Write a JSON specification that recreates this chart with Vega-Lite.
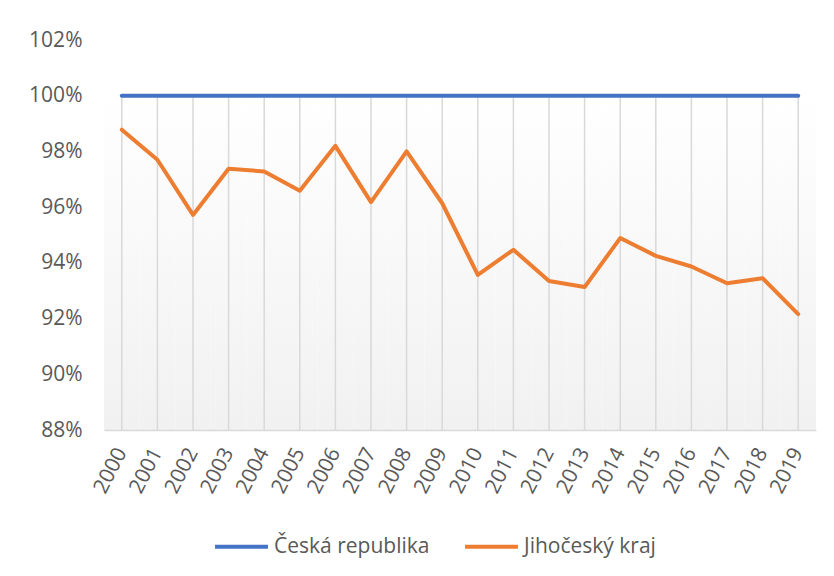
{
  "$schema": "https://vega.github.io/schema/vega-lite/v6.json",
  "autosize": "none",
  "width": 712,
  "height": 390,
  "padding": {"left": 104, "top": 40, "right": 18, "bottom": 146},
  "background": "#ffffff",
  "config": {
    "view": {"stroke": null},
    "font": "Open Sans",
    "axis": {"labelFont": "Open Sans", "labelColor": "#595959", "labelFontSize": 21},
    "legend": {"labelFont": "Open Sans", "labelColor": "#595959", "labelFontSize": 21}
  },
  "data": {
    "values": [
      {"year": "2000", "series": "Česká republika", "value": 1.0},
      {"year": "2001", "series": "Česká republika", "value": 1.0},
      {"year": "2002", "series": "Česká republika", "value": 1.0},
      {"year": "2003", "series": "Česká republika", "value": 1.0},
      {"year": "2004", "series": "Česká republika", "value": 1.0},
      {"year": "2005", "series": "Česká republika", "value": 1.0},
      {"year": "2006", "series": "Česká republika", "value": 1.0},
      {"year": "2007", "series": "Česká republika", "value": 1.0},
      {"year": "2008", "series": "Česká republika", "value": 1.0},
      {"year": "2009", "series": "Česká republika", "value": 1.0},
      {"year": "2010", "series": "Česká republika", "value": 1.0},
      {"year": "2011", "series": "Česká republika", "value": 1.0},
      {"year": "2012", "series": "Česká republika", "value": 1.0},
      {"year": "2013", "series": "Česká republika", "value": 1.0},
      {"year": "2014", "series": "Česká republika", "value": 1.0},
      {"year": "2015", "series": "Česká republika", "value": 1.0},
      {"year": "2016", "series": "Česká republika", "value": 1.0},
      {"year": "2017", "series": "Česká republika", "value": 1.0},
      {"year": "2018", "series": "Česká republika", "value": 1.0},
      {"year": "2019", "series": "Česká republika", "value": 1.0},
      {"year": "2000", "series": "Jihočeský kraj", "value": 0.9878},
      {"year": "2001", "series": "Jihočeský kraj", "value": 0.9770},
      {"year": "2002", "series": "Jihočeský kraj", "value": 0.9572},
      {"year": "2003", "series": "Jihočeský kraj", "value": 0.9738},
      {"year": "2004", "series": "Jihočeský kraj", "value": 0.9728},
      {"year": "2005", "series": "Jihočeský kraj", "value": 0.9659},
      {"year": "2006", "series": "Jihočeský kraj", "value": 0.9820},
      {"year": "2007", "series": "Jihočeský kraj", "value": 0.9618},
      {"year": "2008", "series": "Jihočeský kraj", "value": 0.9800},
      {"year": "2009", "series": "Jihočeský kraj", "value": 0.9614},
      {"year": "2010", "series": "Jihočeský kraj", "value": 0.9357},
      {"year": "2011", "series": "Jihočeský kraj", "value": 0.9447},
      {"year": "2012", "series": "Jihočeský kraj", "value": 0.9335},
      {"year": "2013", "series": "Jihočeský kraj", "value": 0.9313},
      {"year": "2014", "series": "Jihočeský kraj", "value": 0.9489},
      {"year": "2015", "series": "Jihočeský kraj", "value": 0.9425},
      {"year": "2016", "series": "Jihočeský kraj", "value": 0.9387},
      {"year": "2017", "series": "Jihočeský kraj", "value": 0.9327},
      {"year": "2018", "series": "Jihočeský kraj", "value": 0.9345},
      {"year": "2019", "series": "Jihočeský kraj", "value": 0.9216}
    ]
  },
  "encoding": {
    "x": {
      "field": "year",
      "type": "ordinal",
      "scale": {"type": "band", "paddingInner": 0, "paddingOuter": 0},
      "axis": {
        "title": null,
        "grid": false,
        "ticks": false,
        "domain": true,
        "domainColor": "#d9d9d9",
        "domainWidth": 1.5,
        "labelAngle": -63,
        "labelPadding": 19
      }
    }
  },
  "layer": [
    {
      "transform": [{"filter": "datum.series === 'Česká republika'"}],
      "mark": {
        "type": "rect",
        "strokeWidth": 0,
        "fill": {
          "gradient": "linear",
          "x1": 0, "y1": 0, "x2": 0, "y2": 1,
          "stops": [
            {"offset": 0, "color": "#ffffff"},
            {"offset": 1, "color": "#f1f1f1"}
          ]
        }
      },
      "encoding": {
        "y": {"datum": 0.88, "type": "quantitative", "scale": {"domain": [0.88, 1.02], "nice": false, "zero": false}},
        "y2": {"datum": 1.0018}
      }
    },
    {
      "transform": [{"filter": "datum.series === 'Česká republika'"}],
      "mark": {"type": "rule", "stroke": "#d9d9d9", "strokeWidth": 1.5},
      "encoding": {
        "y": {"datum": 0.88, "type": "quantitative"},
        "y2": {"datum": 1.0}
      }
    },
    {
      "mark": {"type": "line", "strokeWidth": 4, "strokeCap": "round", "strokeJoin": "round"},
      "encoding": {
        "y": {
          "field": "value",
          "type": "quantitative",
          "scale": {"domain": [0.88, 1.02], "nice": false, "zero": false},
          "axis": {
            "title": null,
            "values": [0.88, 0.9, 0.92, 0.94, 0.96, 0.98, 1.0, 1.02],
            "format": ".0%",
            "domain": false,
            "ticks": false,
            "grid": false,
            "labelPadding": 22
          }
        },
        "color": {
          "field": "series",
          "type": "nominal",
          "scale": {"domain": ["Česká republika", "Jihočeský kraj"], "range": ["#4472C4", "#ED7D31"]},
          "legend": {
            "title": null,
            "orient": "none",
            "direction": "horizontal",
            "legendX": 109,
            "legendY": 478,
            "symbolType": "stroke",
            "symbolStrokeWidth": 4,
            "symbolSize": 2800,
            "labelOffset": 4,
            "columnPadding": 27
          }
        }
      }
    }
  ]
}
